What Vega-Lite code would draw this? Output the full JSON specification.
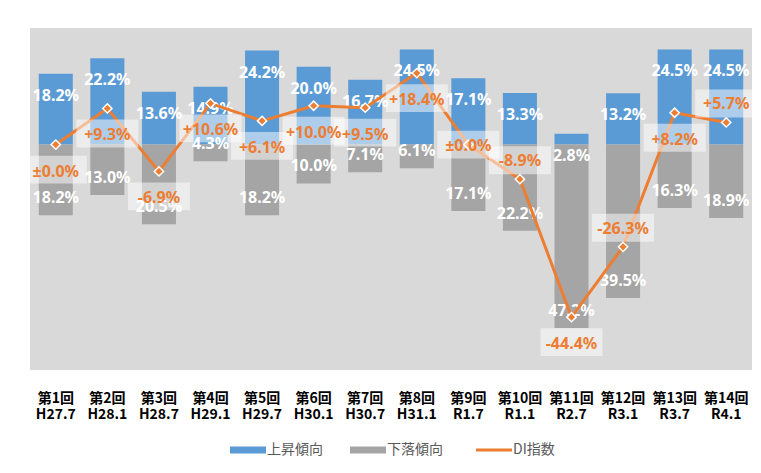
{
  "$schema": "https://vega.github.io/schema/vega-lite/v6.json",
  "width": 722,
  "height": 342,
  "autosize": "none",
  "padding": {"left": 30, "top": 28, "right": 9, "bottom": 103},
  "background": "white",
  "config": {
    "view": {"fill": "#d9d9d9", "stroke": null},
    "text": {"font": "Noto Sans", "fontWeight": "bold", "fontSize": 16}
  },
  "data": {
    "values": [
      {"k": "第1回|H27.7", "up": 18.2, "down": -18.2, "di": 0.0},
      {"k": "第2回|H28.1", "up": 22.2, "down": -13.0, "di": 9.3},
      {"k": "第3回|H28.7", "up": 13.6, "down": -20.5, "di": -6.9},
      {"k": "第4回|H29.1", "up": 14.9, "down": -4.3, "di": 10.6},
      {"k": "第5回|H29.7", "up": 24.2, "down": -18.2, "di": 6.1},
      {"k": "第6回|H30.1", "up": 20.0, "down": -10.0, "di": 10.0},
      {"k": "第7回|H30.7", "up": 16.7, "down": -7.1, "di": 9.5},
      {"k": "第8回|H31.1", "up": 24.5, "down": -6.1, "di": 18.4},
      {"k": "第9回|R1.7", "up": 17.1, "down": -17.1, "di": 0.0},
      {"k": "第10回|R1.1", "up": 13.3, "down": -22.2, "di": -8.9},
      {"k": "第11回|R2.7", "up": 2.8, "down": -47.2, "di": -44.4},
      {"k": "第12回|R3.1", "up": 13.2, "down": -39.5, "di": -26.3},
      {"k": "第13回|R3.7", "up": 24.5, "down": -16.3, "di": 8.2},
      {"k": "第14回|R4.1", "up": 24.5, "down": -18.9, "di": 5.7}
    ]
  },
  "transform": [
    {"calculate": "format(datum.up,'.1f')+'%'", "as": "upLabel"},
    {"calculate": "format(abs(datum.down),'.1f')+'%'", "as": "downLabel"},
    {"calculate": "(datum.di>0?'+':(datum.di<0?'-':'±'))+format(abs(datum.di),'.1f')+'%'", "as": "diLabel"},
    {"calculate": "indexof(['第10回|R1.1','第12回|R3.1','第14回|R4.1'], datum.k) >= 0 ? 'above' : (datum.k === '第9回|R1.7' ? 'center' : 'below')", "as": "pos"}
  ],
  "encoding": {
    "x": {
      "field": "k",
      "type": "nominal",
      "sort": null,
      "scale": {"paddingInner": 0.34, "paddingOuter": 0.17},
      "axis": {
        "title": null,
        "domain": false,
        "ticks": false,
        "labelAngle": 0,
        "labelExpr": "split(datum.label,'|')",
        "labelFont": "Noto Sans CJK JP",
        "labelFontWeight": "bold",
        "labelFontSize": 14,
        "labelColor": "#000000",
        "labelLineHeight": 16,
        "labelBaseline": "top",
        "labelPadding": 21
      }
    }
  },
  "layer": [
    {
      "mark": {"type": "bar"},
      "encoding": {
        "y": {"field": "up", "type": "quantitative", "scale": {"domain": [-58, 30], "nice": false}, "axis": null},
        "color": {
          "datum": "上昇傾向",
          "type": "nominal",
          "scale": {"domain": ["上昇傾向", "下落傾向", "DI指数"], "range": ["#5b9bd5", "#a5a5a5", "#ed7d31"]},
          "legend": {
            "title": null,
            "orient": "none",
            "legendX": 211,
            "legendY": 415,
            "direction": "horizontal",
            "symbolType": "M-1,-0.2H1V0.2H-1Z",
            "symbolSize": 1296,
            "symbolStrokeWidth": 0,
            "labelFont": "Noto Sans CJK JP",
            "labelFontSize": 14,
            "labelColor": "#595959",
            "labelOffset": 12,
            "columnPadding": 27,
            "encode": {
              "symbols": {
                "update": {
                  "shape": {"signal": "datum.value === 'DI指数' ? 'M-1,0H1' : 'M-1,-0.2H1V0.2H-1Z'"},
                  "fill": {"signal": "datum.value === 'DI指数' ? 'transparent' : scale('color', datum.value)"},
                  "stroke": {"signal": "scale('color', datum.value)"},
                  "strokeWidth": {"signal": "datum.value === 'DI指数' ? 3 : 0"},
                  "opacity": {"value": 1}
                }
              }
            }
          }
        }
      }
    },
    {
      "mark": {"type": "bar"},
      "encoding": {
        "y": {"field": "down", "type": "quantitative"},
        "color": {"datum": "下落傾向", "type": "nominal"}
      }
    },
    {
      "mark": {"type": "rule", "color": "#7f7f7f", "strokeWidth": 1.5},
      "encoding": {"y": {"datum": 0}}
    },
    {
      "mark": {"type": "text", "color": "white", "baseline": "middle", "dy": 22},
      "encoding": {
        "y": {"field": "up", "type": "quantitative"},
        "text": {"field": "upLabel"}
      }
    },
    {
      "mark": {"type": "text", "color": "white", "baseline": "middle", "dy": -17},
      "encoding": {
        "y": {"field": "down", "type": "quantitative"},
        "text": {"field": "downLabel"}
      }
    },
    {
      "mark": {"type": "line", "strokeWidth": 3},
      "encoding": {
        "y": {"field": "di", "type": "quantitative"},
        "color": {"datum": "DI指数", "type": "nominal"}
      }
    },
    {
      "mark": {"type": "point", "shape": "diamond", "filled": true, "fill": "#ed7d31", "stroke": "white", "strokeWidth": 1.5, "size": 85, "opacity": 1},
      "encoding": {
        "y": {"field": "di", "type": "quantitative"}
      }
    },
    {
      "transform": [{"filter": "datum.pos === 'below'"}],
      "mark": {"type": "point", "shape": "M-1,-0.45H1V0.45H-1Z", "filled": true, "fill": "white", "opacity": 0.5, "strokeWidth": 0, "size": 3844, "yOffset": 25},
      "encoding": {"y": {"field": "di", "type": "quantitative"}}
    },
    {
      "transform": [{"filter": "datum.pos === 'above'"}],
      "mark": {"type": "point", "shape": "M-1,-0.45H1V0.45H-1Z", "filled": true, "fill": "white", "opacity": 0.5, "strokeWidth": 0, "size": 3844, "yOffset": -19},
      "encoding": {"y": {"field": "di", "type": "quantitative"}}
    },
    {
      "transform": [{"filter": "datum.pos === 'center'"}],
      "mark": {"type": "point", "shape": "M-1,-0.45H1V0.45H-1Z", "filled": true, "fill": "white", "opacity": 0.5, "strokeWidth": 0, "size": 3844, "yOffset": 0},
      "encoding": {"y": {"field": "di", "type": "quantitative"}}
    },
    {
      "transform": [{"filter": "datum.pos === 'below'"}],
      "mark": {"type": "text", "color": "#ed7d31", "baseline": "middle", "dy": 27},
      "encoding": {"y": {"field": "di", "type": "quantitative"}, "text": {"field": "diLabel"}}
    },
    {
      "transform": [{"filter": "datum.pos === 'above'"}],
      "mark": {"type": "text", "color": "#ed7d31", "baseline": "middle", "dy": -18},
      "encoding": {"y": {"field": "di", "type": "quantitative"}, "text": {"field": "diLabel"}}
    },
    {
      "transform": [{"filter": "datum.pos === 'center'"}],
      "mark": {"type": "text", "color": "#ed7d31", "baseline": "middle", "dy": 1},
      "encoding": {"y": {"field": "di", "type": "quantitative"}, "text": {"field": "diLabel"}}
    }
  ]
}
